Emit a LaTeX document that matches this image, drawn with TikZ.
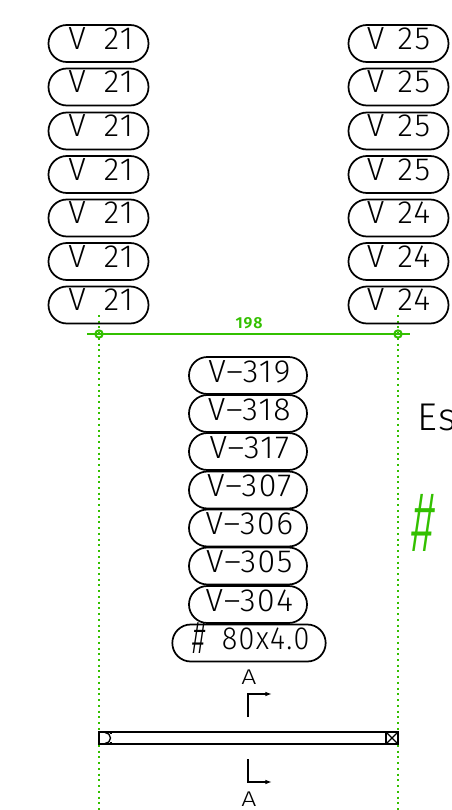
\documentclass[tikz,border=0pt]{standalone}
\usepackage{fontspec}
\usetikzlibrary{arrows.meta}
\setmainfont{Fira Sans Light}[LetterSpace=5]
\definecolor{cadgreen}{HTML}{33C000}
\tikzset{
  x=0.75pt,y=-0.75pt,
  pill/.style={draw=black,line width=1.3pt,rounded corners=13.8pt,inner sep=0pt,minimum height=27.75pt,
     text height=18.25pt,text depth=9.5pt,font=\fontsize{24}{26}\selectfont},
  sidepill/.style={pill,minimum width=75pt,text width=75pt,align=center},
  midpill/.style={pill,minimum width=88.5pt,text height=18.75pt,text depth=9pt},
  greenline/.style={draw=cadgreen,line width=1.3pt},
  dots/.style={draw=cadgreen,line width=1.8pt,dash pattern=on 1.5pt off 2.8pt},
  endmark/.style={circle,draw=cadgreen,line width=1.5pt,minimum size=5.5pt,inner sep=0pt},
  section/.style={draw=black,line width=1pt},
  seclabel/.style={font=\fontsize{16}{18}\selectfont,inner sep=0pt},
}
\newcommand{\gapV}{\hspace{10pt}}
\begin{document}
\begin{tikzpicture}
\clip (0,0) rectangle (451,810);
\useasboundingbox (0,0) rectangle (451,810);
\coordinate (dl0) at (99,315); \coordinate (dl1) at (99,810);
\coordinate (dr0) at (398,315); \coordinate (dr1) at (398,810);
\draw[dots] (dl0) -- (dl1);
\draw[dots] (dr0) -- (dr1);
\coordinate (dima) at (87,334); \coordinate (dimb) at (410,334);
\draw[greenline] (dima) -- (dimb);
\node[endmark,fill=none] (ml) at (99,334) {};
\node[endmark,fill=none] (mr) at (398,334) {};
\node[text=cadgreen,inner sep=0pt,font=\fontsize{12}{13}\selectfont\bfseries] (dimt) at (249,323) {198};
% left column
\foreach \n/\y in {1/43.5,2/87,3/131,4/174.5,5/218,6/261.5,7/305}
  \node[sidepill] (l\n) at (98.5,\y) {\hspace{3.5pt}V\hspace{13.5pt}21};
\foreach \n/\y/\t in {1/43.5/25,2/87/25,3/131/25,4/174.5/25,5/218/24,6/261.5/24,7/305/24}
  \node[sidepill] (r\n) at (398.5,\y) {V\gapV \t};
% middle stack
\foreach \n/\y/\t in {1/375.5/319,2/413.5/318,3/451.5/317,4/490/307,5/528/306,6/566/305,7/604.5/304}
  \node[midpill] (m\n) at (248,\y) {\hspace{2pt}V–\t};
\node[midpill,minimum width=115pt] (size) at (249,643) {\hspace{3pt}\raisebox{-3pt}{\scalebox{0.8}[1.45]{\textit{\#}}}\hspace{11pt}\scalebox{0.9}[1]{80x4.0}};
% section marks
\node[seclabel] (at) at (249,677) {\scalebox{1.25}[1]{A}};
\node[seclabel] (ab) at (249,799.5) {\scalebox{1.25}[1]{A}};
\coordinate (sa) at (248,717); \coordinate (sb) at (248,694); \coordinate (sc) at (272,694);
\draw[section,-{Latex[length=5pt,width=3.5pt]}] (sa) -- (sb) -- (sc);
\coordinate (sd) at (248,759); \coordinate (se) at (248,782); \coordinate (sf) at (272,782);
\draw[section,-{Latex[length=5pt,width=3.5pt]}] (sd) -- (se) -- (sf);
% beam
\node[draw=black,line width=1.4pt,minimum width=224.5pt,minimum height=9pt,inner sep=0pt,fill=white] (beam) at (248.75,738) {};
\draw[line width=1pt] (105,732.5) arc (-90:90:5.5);
\draw[line width=1pt] (111,732) -- (111,734) (111,742) -- (111,744);
\draw[line width=1pt] (386,732) rectangle (398,744);
\draw[line width=1pt] (386,732) -- (398,744) (386,744) -- (398,732);
% clipped note and green symbol
\node[anchor=base west,inner sep=0pt,font=\fontsize{29}{31}\selectfont] (es) at (417,430) {Es};
\node[text=cadgreen,inner sep=0pt,font=\fontsize{46}{50}\selectfont] (hash) at (424.5,522.5) {\scalebox{0.75}[1.4]{\textit{\#}}};
\end{tikzpicture}
\end{document}
